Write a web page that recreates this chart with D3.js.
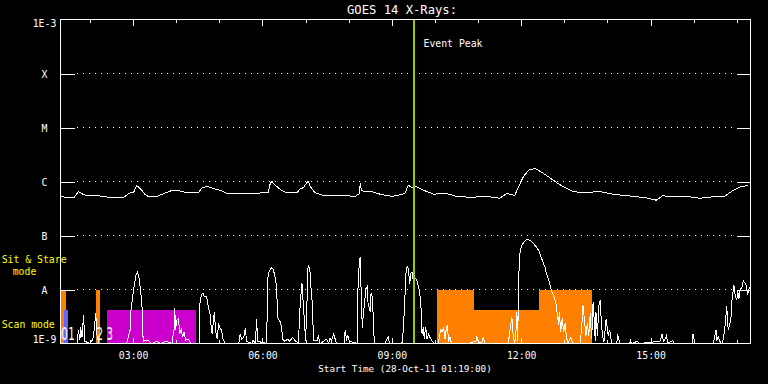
<!DOCTYPE html>
<html><head><meta charset="utf-8">
<script src="https://cdn.jsdelivr.net/npm/d3@7"></script>
<style>html,body{margin:0;padding:0;background:#000}svg{display:block}</style>
</head><body>
<svg id="c" width="768" height="384"></svg>
<script>
// ---------------- data ----------------
const startTime = new Date(2011, 9, 28, 1, 19, 0);
const spanHours = 16;
const titleText = "GOES 14 X-Rays:";
const xAxisTitle = "Start Time (28-Oct-11 01:19:00)";
const classLabels = ["X", "M", "C", "B", "A"];
const classFlux = [1e-4, 1e-5, 1e-6, 1e-7, 1e-8];
const yEndLabels = ["1E-3", "1E-9"];
const eventPeakMinutes = 492;
const eventLabel = "Event Peak";

// GOES long channel (1-8 A): minutes after start, flux W/m^2
const longMinutes = [0,19,25,32,39,46,55,67,88,95,102,106,111,118,122,134,148,155,164,176,192,197,204,213,222,231,245,264,282,289,292,294,299,306,313,329,333,338,343,345,347,354,364,394,410,416,417,419,428,433,445,461,468,479,484,489,493,505,514,519,535,551,574,584,593,611,621,632,637,644,651,660,669,681,692,702,711,723,751,769,797,815,829,838,848,871,889,908,924,936,945,957];
const longFlux = [5.2e-7,5.05e-7,6.5e-7,5.7e-7,5.4e-7,5.6e-7,5.4e-7,5.1e-7,5.1e-7,6.0e-7,6.4e-7,8.4e-7,7.4e-7,5.7e-7,5.3e-7,5.3e-7,6.3e-7,6.8e-7,6.8e-7,6.2e-7,6.2e-7,7.7e-7,8.1e-7,7.4e-7,6.9e-7,6.1e-7,6.1e-7,5.9e-7,6.2e-7,6.2e-7,9.4e-7,1.0e-6,8.5e-7,7.1e-7,6.3e-7,6.2e-7,7.2e-7,7.7e-7,9.7e-7,1.0e-6,8.2e-7,6.2e-7,5.6e-7,5.5e-7,5.3e-7,6.0e-7,9.2e-7,6.7e-7,6.5e-7,6.5e-7,5.8e-7,5.3e-7,5.5e-7,6.0e-7,8.5e-7,7.7e-7,8.3e-7,6.9e-7,6.2e-7,5.8e-7,6.1e-7,5.3e-7,5.05e-7,5.3e-7,5.3e-7,4.9e-7,6.0e-7,5.5e-7,7.9e-7,1.22e-6,1.62e-6,1.74e-6,1.5e-6,1.17e-6,9.2e-7,7.7e-7,6.7e-7,6.2e-7,6.5e-7,5.8e-7,5.3e-7,5.0e-7,4.5e-7,5.5e-7,5.2e-7,5.3e-7,4.9e-7,5.2e-7,5.3e-7,6.9e-7,7.9e-7,8.5e-7];

// GOES short channel (0.5-4 A): minutes after start, flux W/m^2
const shortMinutes = [0,23,25,27,28,30,32,34,41,45,47,49,51,54,92,97,98,101,103,105,107,109,111,113,114,115,122,127,134,139,147,155,158,159,160,162,164,166,168,170,172,174,178,181,193,194,196,198,200,203,205,206,208,210,211,214,216,218,220,222,224,226,229,248,250,252,255,257,259,266,268,271,273,274,287,288,290,292,294,296,298,300,301,302,304,306,308,309,312,316,319,323,326,331,333,335,336,338,339,341,343,344,345,347,348,350,351,352,357,359,361,366,370,373,375,377,380,384,395,396,398,400,402,413,414,416,417,419,420,421,423,425,427,428,430,431,432,434,436,437,451,454,456,458,475,477,479,481,483,484,486,487,489,490,492,494,496,497,499,501,502,503,505,506,508,510,512,514,517,520,526,527,529,531,533,535,536,538,540,542,544,567,578,579,581,586,588,591,623,625,628,630,632,634,635,636,638,639,640,642,645,647,649,652,655,657,660,663,666,668,671,674,676,679,681,683,686,688,690,691,693,694,696,698,700,702,704,706,710,713,723,725,727,729,731,733,735,737,739,741,743,744,745,747,749,751,752,754,756,757,759,760,762,764,767,774,775,777,778,792,793,794,803,805,834,837,839,841,843,845,852,853,879,880,882,883,908,909,912,913,915,918,920,922,924,925,927,928,929,931,933,934,936,937,939,941,942,944,945,948,950,952,954,956,957,959];
const shortFlux = [1e-9,1e-9,1.8e-9,1.15e-9,2.0e-9,1.3e-9,3.3e-9,1.1e-9,1e-9,1.2e-9,1.8e-9,3.6e-9,1.3e-9,1e-9,1e-9,1.8e-9,4.1e-9,8.4e-9,1.29e-8,1.84e-8,2.07e-8,1.71e-8,1.04e-8,6.3e-9,3.1e-9,1.1e-9,1.15e-9,1e-9,1.1e-9,1e-9,1.1e-9,1e-9,1.8e-9,4.45e-9,1.8e-9,2.7e-9,2.9e-9,1.5e-9,1.8e-9,1.3e-9,1.65e-9,1.15e-9,1.2e-9,1e-9,1e-9,5.5e-9,7.8e-9,8.6e-9,7.3e-9,7.5e-9,5.5e-9,4.45e-9,3.6e-9,1.8e-9,1.5e-9,3.85e-9,1.65e-9,1.2e-9,2.35e-9,1.9e-9,1.8e-9,1.2e-9,1e-9,1e-9,1.5e-9,1.2e-9,1.3e-9,1.9e-9,1.1e-9,1e-9,1.15e-9,1e-9,2.8e-9,1.1e-9,1e-9,1.49e-8,2.1e-8,2.35e-8,2.55e-8,2.35e-8,1.84e-8,1.29e-8,8.4e-9,3.1e-9,2.7e-9,2.5e-9,1.8e-9,1.2e-9,1.1e-9,1.2e-9,1.1e-9,1.3e-9,1.15e-9,1e-9,4.1e-9,9.7e-9,1.29e-8,4.75e-9,3.1e-9,1.1e-9,6.3e-9,2.27e-8,2.8e-8,2.27e-8,1.29e-8,6.3e-9,3.1e-9,1.15e-9,1.15e-9,1.37e-9,1e-9,1.1e-9,1.2e-9,1e-9,1.25e-9,1.1e-9,1.5e-9,1e-9,1e-9,1.8e-9,1.2e-9,1.4e-9,1.1e-9,1e-9,1.29e-8,3.5e-8,3.91e-8,4.1e-9,1.9e-9,3.1e-9,5.5e-9,1.04e-8,1.15e-8,5.1e-9,4.45e-9,3.85e-9,8.4e-9,7.3e-9,1.5e-9,1e-9,1e-9,1.2e-9,1.3e-9,1e-9,1e-9,1.8e-9,6.3e-9,2.45e-8,2.7e-8,2.35e-8,1.29e-8,1.98e-8,2.1e-8,1.6e-8,1.71e-8,1.6e-8,1.44e-8,1.29e-8,1.0e-8,6.3e-9,3.6e-9,1.5e-9,2.0e-9,1.2e-9,2.0e-9,1.2e-9,1.5e-9,1.3e-9,1.1e-9,1e-9,1e-9,1.4e-9,1.8e-9,1.65e-9,2.0e-9,1.2e-9,1.65e-9,2.2e-9,1.15e-9,1.3e-9,1e-9,1e-9,1.1e-9,1.4e-9,1.1e-9,1e-9,1.3e-9,1e-9,1e-9,1.65e-9,3.1e-9,1.3e-9,1e-9,1.9e-9,3.85e-9,1.1e-9,2.45e-8,4.3e-8,5.6e-8,6.6e-8,7.6e-8,8.2e-8,8.6e-8,8.2e-8,7.8e-8,7.4e-8,6.6e-8,5.9e-8,5.1e-8,4.2e-8,3.3e-8,2.6e-8,1.98e-8,1.55e-8,1.2e-8,9.7e-9,7.8e-9,6.3e-9,5.1e-9,3.6e-9,2.2e-9,3.85e-9,1.65e-9,2.9e-9,1.65e-9,2.35e-9,1.3e-9,1e-9,1.3e-9,1e-9,1e-9,1.9e-9,5.1e-9,2.7e-9,1.4e-9,2.35e-9,1.4e-9,3.6e-9,1.2e-9,5.9e-9,2.2e-9,1.1e-9,3.85e-9,1.4e-9,5.1e-9,6.3e-9,3.3e-9,1.4e-9,1.05e-9,1.4e-9,2.8e-9,2.35e-9,1.4e-9,1.8e-9,1e-9,1e-9,1.5e-9,1.15e-9,1e-9,1e-9,1.2e-9,1e-9,1.1e-9,1e-9,1.1e-9,1.5e-9,1.1e-9,1.2e-9,1.4e-9,1e-9,1.15e-9,1e-9,1e-9,1.5e-9,1.1e-9,1e-9,1e-9,1.1e-9,1.8e-9,1.1e-9,1.35e-9,1.05e-9,1e-9,1.2e-9,1.8e-9,2.35e-9,4.9e-9,2.7e-9,1.8e-9,2.2e-9,3.1e-9,5.9e-9,9.7e-9,1.2e-8,7.3e-9,6.3e-9,9.7e-9,6.8e-9,9.7e-9,1.09e-8,1.44e-8,1.33e-8,1.2e-8,7.8e-9,9.7e-9,1.12e-8];

// Observation segments (minutes after start)
const segStart = [1, 5, 50, 64, 524, 575, 666];
const segEnd   = [7, 10, 55, 188, 575, 666, 740];
const segMode  = ["stare", "scan", "stare", "scan", "stare", "scan", "stare"];
const segKind  = ["a", "b", "a", "c", "a", "a", "a"];
const segLabel = ["0", "1", "2", "3", "", "", ""];
const modeTop = { stare: 1e-8, scan: 4.1e-9 };
const modeNames = ["Sit & Stare", "mode", "Scan mode"];

// ---------------- drawing ----------------
const W = 768, H = 384;
const L = 60.5, R = 750.5, T = 19.5, B = 343.5;
const kindColor = { a: "#ff8000", b: "#6464ff", c: "#cc00cc" };
const FONT = "'DejaVu Sans Mono', 'Liberation Mono', monospace";

const svg = d3.select("#c").attr("shape-rendering", "crispEdges");
svg.append("rect").attr("width", W).attr("height", H).attr("fill", "#000");

const toDate = m => new Date(startTime.getTime() + m * 60000);
const endTime = toDate(spanHours * 60);
const x = d3.scaleTime().domain([startTime, endTime]).range([L, R]);
const y = d3.scaleLog().domain([1e-9, 1e-3]).range([B, T]).clamp(true);

svg.append("defs").append("clipPath").attr("id", "clip")
  .append("rect").attr("x", L).attr("y", T).attr("width", R - L).attr("height", B - T);

// observation bars
const segs = segStart.map((s, i) => ({ s, e: segEnd[i], mode: segMode[i], kind: segKind[i], label: segLabel[i] }));
svg.append("g").selectAll("rect").data(segs).join("rect")
  .attr("x", d => x(toDate(d.s)))
  .attr("width", d => x(toDate(d.e)) - x(toDate(d.s)))
  .attr("y", d => y(modeTop[d.mode]))
  .attr("height", d => B - y(modeTop[d.mode]))
  .attr("fill", d => kindColor[d.kind]);

// dotted class gridlines
svg.append("g").selectAll("line").data(classFlux).join("line")
  .attr("x1", L + 16.5).attr("x2", R - 17)
  .attr("y1", d => y(d)).attr("y2", d => y(d))
  .attr("stroke", "#fff").attr("stroke-width", 1).attr("stroke-dasharray", "1 5");

// data lines
const plot = svg.append("g").attr("clip-path", "url(#clip)");
const line = d3.line().x(d => x(toDate(d[0]))).y(d => y(d[1]));
plot.append("path").datum(longMinutes.map((m, i) => [m, longFlux[i]]))
  .attr("d", line).attr("fill", "none").attr("stroke", "#fff").attr("stroke-width", 1);
plot.append("path").datum(shortMinutes.map((m, i) => [m, shortFlux[i]]))
  .attr("d", line).attr("fill", "none").attr("stroke", "#fff").attr("stroke-width", 1);

// event peak
const xe = Math.round(x(toDate(eventPeakMinutes)));
svg.append("line").attr("x1", xe).attr("x2", xe).attr("y1", T).attr("y2", B)
  .attr("stroke", "#99cc00").attr("stroke-width", 2);
svg.append("text").attr("x", xe + 9.5).attr("y", 46.7).text(eventLabel)
  .attr("fill", "#fff").attr("font-family", FONT).attr("font-size", 9.8);

// segment labels (narrow digits, kept apart so they do not collide)
const labelled = segs.filter(d => d.label);
let lastRight = -Infinity;
const labelPos = labelled.map(d => {
  const px = Math.max(x(toDate(d.s)), lastRight + 0.5);
  lastRight = px + 6.5;
  return { label: d.label, px };
});
svg.append("g").selectAll("text").data(labelPos).join("text")
  .attr("transform", d => `translate(${d.px},340) scale(0.6,1)`)
  .text(d => d.label)
  .attr("fill", "#fff").attr("font-family", "'DejaVu Sans', sans-serif").attr("font-size", 17);

// frame
svg.append("rect").attr("x", L).attr("y", T).attr("width", R - L).attr("height", B - T)
  .attr("fill", "none").attr("stroke", "#fff").attr("stroke-width", 1);

// x axes
const hours = d3.timeHour.range(d3.timeHour.ceil(startTime), endTime);
const majors = hours.filter(d => d.getHours() % 3 === 0);
const minors = hours.filter(d => d.getHours() % 3 !== 0);
function styleAxis(g) {
  g.select(".domain").remove();
  g.selectAll(".tick line").attr("stroke", "#fff");
  g.selectAll("text").attr("fill", "#fff").attr("font-family", FONT).attr("font-size", 9.8);
}
svg.append("g").attr("transform", `translate(0,${B})`)
  .call(d3.axisBottom(x).tickValues(majors).tickFormat(d3.timeFormat("%H:%M")).tickSizeInner(-6).tickSizeOuter(0))
  .call(styleAxis)
  .call(g => g.selectAll("text").attr("y", 15).attr("dy", 0));
svg.append("g").attr("transform", `translate(0,${B})`)
  .call(d3.axisBottom(x).tickValues(minors).tickFormat("").tickSizeInner(-3.5).tickSizeOuter(0))
  .call(styleAxis);
svg.append("g").attr("transform", `translate(0,${T})`)
  .call(d3.axisTop(x).tickValues(majors).tickFormat("").tickSizeInner(-6).tickSizeOuter(0))
  .call(styleAxis);
svg.append("g").attr("transform", `translate(0,${T})`)
  .call(d3.axisTop(x).tickValues(minors).tickFormat("").tickSizeInner(-3.5).tickSizeOuter(0))
  .call(styleAxis);

// y axes
svg.append("g").attr("transform", `translate(${L},0)`)
  .call(d3.axisLeft(y).tickValues(classFlux).tickFormat((d, i) => classLabels[i]).tickSizeInner(-14).tickSizeOuter(0))
  .call(styleAxis)
  .call(g => g.selectAll("text").attr("x", -16).attr("dy", "0.37em").attr("text-anchor", "middle"));
svg.append("g").attr("transform", `translate(${R},0)`)
  .call(d3.axisRight(y).tickValues(classFlux).tickFormat("").tickSizeInner(-14).tickSizeOuter(0))
  .call(styleAxis);
svg.append("text").attr("x", L - 16).attr("y", y(1e-3) + 7.3).attr("text-anchor", "middle")
  .text(yEndLabels[0]).attr("fill", "#fff").attr("font-family", FONT).attr("font-size", 9.8);
svg.append("text").attr("x", L - 16).attr("y", B - 0.3).attr("text-anchor", "middle")
  .text(yEndLabels[1]).attr("fill", "#fff").attr("font-family", FONT).attr("font-size", 9.8);

// mode labels
const modeText = [[modeNames[0], 1.7, 262.7], [modeNames[1], 12.7, 275], [modeNames[2], 1.7, 327.7]];
svg.append("g").selectAll("text").data(modeText).join("text")
  .attr("x", d => d[1]).attr("y", d => d[2]).text(d => d[0])
  .attr("fill", "#ffff00").attr("font-family", FONT).attr("font-size", 9.8);

// titles
svg.append("text").attr("x", 402).attr("y", 14).attr("text-anchor", "middle").text(titleText)
  .attr("fill", "#fff").attr("font-family", FONT).attr("font-size", 12.2);
svg.append("text").attr("x", 405).attr("y", 371.5).attr("text-anchor", "middle").text(xAxisTitle)
  .attr("fill", "#fff").attr("font-family", FONT).attr("font-size", 9.3);
</script>
</body></html>
